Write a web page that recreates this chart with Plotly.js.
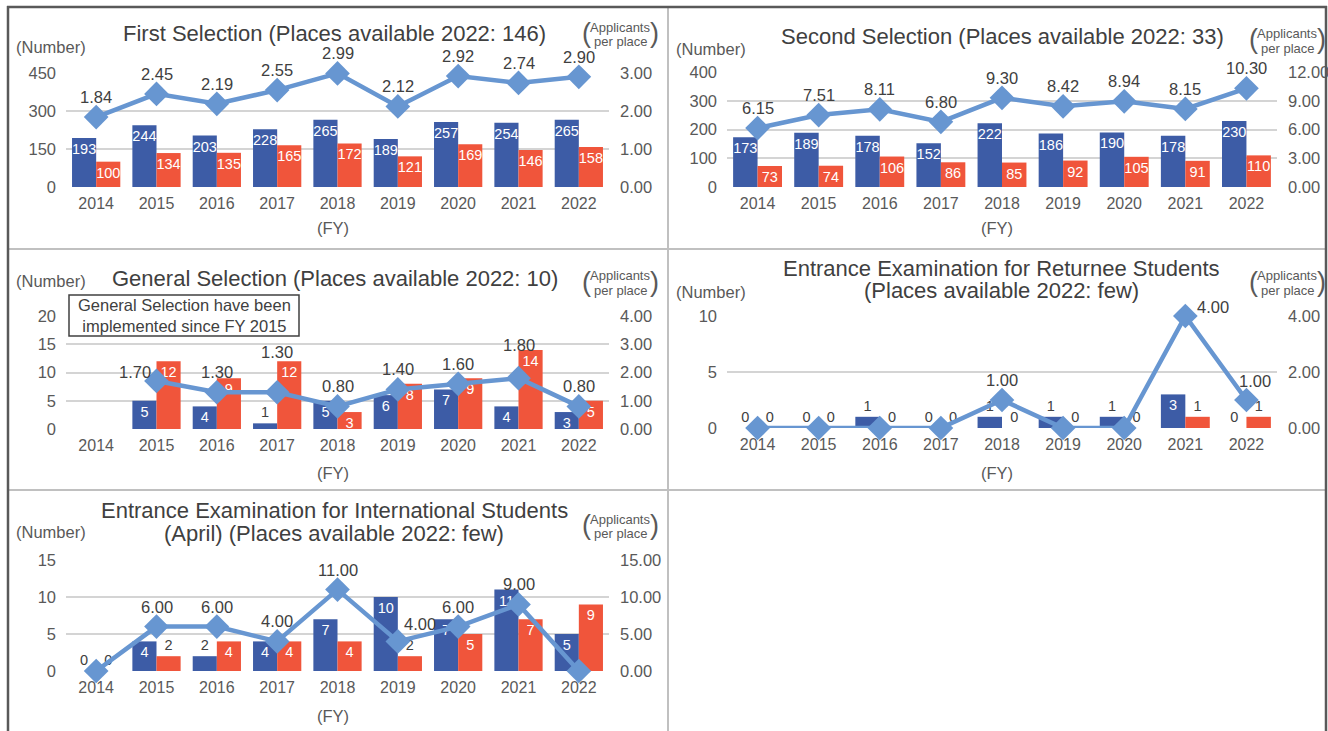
<!DOCTYPE html>
<html><head><meta charset="utf-8">
<script src="https://cdn.plot.ly/plotly-3.0.1.min.js"></script>
<style>html,body{margin:0;padding:0;background:#fff}#chart{width:1328px;height:731px}</style>
</head><body><div id="chart"></div>
<script>
// ---------- data ----------
const years = ['2014','2015','2016','2017','2018','2019','2020','2021','2022'];

const firstApplicants  = [193,244,203,228,265,189,257,254,265];
const firstSuccessful  = [100,134,135,165,172,121,169,146,158];
const firstRatio       = [1.84,2.45,2.19,2.55,2.99,2.12,2.92,2.74,2.90];

const secondApplicants = [173,189,178,152,222,186,190,178,230];
const secondSuccessful = [73,74,106,86,85,92,105,91,110];
const secondRatio      = [6.15,7.51,8.11,6.80,9.30,8.42,8.94,8.15,10.30];

const generalApplicants = [null,5,4,1,5,6,7,4,3];
const generalSuccessful = [null,12,9,12,3,8,9,14,5];
const generalRatio      = [null,1.70,1.30,1.30,0.80,1.40,1.60,1.80,0.80];

const returneeApplicants = [0,0,1,0,1,1,1,3,0];
const returneeSuccessful = [0,0,0,0,0,0,0,1,1];
const returneeRatio      = [0,0,0,0,1.00,0,0,4.00,1.00];

const intlApplicants = [0,4,2,4,7,10,7,11,5];
const intlSuccessful = [0,2,4,4,4,2,5,7,9];
const intlRatio      = [0,6.00,6.00,4.00,11.00,4.00,6.00,9.00,0];

const titles = [
  ['First Selection (Places available 2022: 146)'],
  ['Second Selection (Places available 2022: 33)'],
  ['General Selection (Places available 2022: 10)'],
  ['Entrance Examination for Returnee Students', '(Places available 2022: few)'],
  ['Entrance Examination for International Students', '(April) (Places available 2022: few)']
];
const noteText = 'General Selection have been<br>implemented since FY 2015';

// ---------- layout / style ----------
const W = 1328, H = 731;
const px = x => x / W, py = y => 1 - y / H;
const BLUE = '#3d5ca6', RED = '#f0553b', LINE = '#6796d1';
const DARK = '#404040', TICK = '#595959', GRID = '#d4d4d4';
const FONT = 'Arial, "Liberation Sans", sans-serif';

// label offsets (pixels) for ratio labels: default above the marker
const DEF_SHIFT = {x:0, y:20};
const panels = [
  {data:[firstApplicants, firstSuccessful, firstRatio], x0:66, x1:609, y0:73, y1:187,
   left:[450,150], right:[3,1], title:[334,[34]], num:[51,47], app:[620,27,41], fy:[333,228], shifts:{}},
  {data:[secondApplicants, secondSuccessful, secondRatio], x0:727, x1:1277, y0:72, y1:187,
   left:[400,100], right:[12,3], title:[1003,[37]], num:[711,49], app:[1287,33,48], fy:[997,228], shifts:{}},
  {data:[generalApplicants, generalSuccessful, generalRatio], x0:66, x1:609, y0:316, y1:429,
   left:[20,5], right:[4,1], title:[335,[278]], num:[51,281], app:[620,276,290], fy:[333,473],
   shifts:{1:{x:-22,y:9}, 3:{x:0,y:40}, 7:{x:0,y:33}}},
  {data:[returneeApplicants, returneeSuccessful, returneeRatio], x0:727, x1:1277, y0:316, y1:428,
   left:[10,5], right:[4,2], title:[1002,[268,290]], num:[711,292], app:[1287,276,290], fy:[997,473],
   shifts:{7:{x:28,y:9}, 8:{x:9,y:19}}},
  {data:[intlApplicants, intlSuccessful, intlRatio], x0:66, x1:609, y0:560, y1:671,
   left:[15,5], right:[15,5], title:[334,[511,533]], num:[51,532], app:[620,519,533], fy:[333,716],
   shifts:{5:{x:22,y:17}}}
];

const traces = [];
const layout = {
  width: W, height: H, margin:{l:0,r:0,t:0,b:0},
  paper_bgcolor:'#fff', plot_bgcolor:'rgba(0,0,0,0)',
  showlegend:false, barmode:'group', bargap:0.2, bargroupgap:0,
  font:{family:FONT, color:TICK},
  annotations:[], shapes:[]
};

panels.forEach((p, i) => {
  const xn = i === 0 ? '' : String(i + 1);
  const ylN = 2 * i + 1, yrN = 2 * i + 2;
  const xa = 'x' + xn, ya = ylN === 1 ? 'y' : 'y' + ylN, yb = 'y' + yrN;
  const [blue, red, ratio] = p.data;
  const lmax = p.left[0];
  const barText = arr => arr.map(v => v === null ? '' : String(v));
  const barPos = arr => arr.map(v => (v !== null && v / lmax >= 0.15) ? 'inside' : 'outside');
  [[blue, BLUE, 'Applicants'], [red, RED, 'Successful applicants']].forEach(([arr, col, nm]) => {
    traces.push({
      type:'bar', x:years, y:arr, name:nm, xaxis:xa, yaxis:ya,
      marker:{color:col, line:{width:0}},
      text:barText(arr), textposition:barPos(arr), insidetextanchor:'end',
      constraintext:'none', cliponaxis:false, textangle:0,
      insidetextfont:{family:FONT, size:14.5, color:'#ffffff'},
      outsidetextfont:{family:FONT, size:14.5, color:DARK}
    });
  });
  traces.push({
    type:'scatter', mode:'lines+markers', x:years, y:ratio, name:'Applicants per place',
    xaxis:xa, yaxis:yb, cliponaxis:false,
    line:{color:LINE, width:4.5},
    marker:{symbol:'diamond', size:19, color:LINE}
  });
  // ratio value labels, anchored on the data points (category index on x)
  ratio.forEach((v, k) => {
    if (v === null || v === 0) return;
    const s = p.shifts[k] || DEF_SHIFT;
    layout.annotations.push({xref:xa, yref:yb, x:k, y:v, text:v.toFixed(2), showarrow:false,
      xanchor:'center', yanchor:'middle', xshift:s.x, yshift:s.y,
      font:{family:FONT, size:16.5, color:DARK}});
  });

  const xdom = [px(p.x0), px(p.x1)], ydom = [py(p.y1), py(p.y0)];
  layout['xaxis' + xn] = {
    domain:xdom, anchor:ya, type:'category', range:[-0.5, 8.5],
    showgrid:false, zeroline:false, showline:false, ticks:'', ticklabelstandoff:5,
    tickfont:{family:FONT, size:16, color:TICK}, fixedrange:true
  };
  layout[ylN === 1 ? 'yaxis' : 'yaxis' + ylN] = {
    domain:ydom, anchor:xa, range:[0, p.left[0]], dtick:p.left[1], tick0:0,
    showgrid:true, gridcolor:GRID, gridwidth:2, zeroline:false, showline:false,
    ticks:'', ticklabelstandoff:9, tickfont:{family:FONT, size:16.5, color:TICK}, fixedrange:true
  };
  layout['yaxis' + yrN] = {
    domain:ydom, anchor:xa, overlaying:ya, side:'right', range:[0, p.right[0]], dtick:p.right[1], tick0:0,
    tickformat:'.2f', showgrid:false, zeroline:false, showline:false,
    ticks:'', ticklabelstandoff:10, tickfont:{family:FONT, size:16.5, color:TICK}, fixedrange:true
  };

  const ann = (x, y, text, size, color) => layout.annotations.push({
    xref:'paper', yref:'paper', x:px(x), y:py(y), xanchor:'center', yanchor:'middle',
    text:text, showarrow:false, font:{family:FONT, size:size, color:color}});
  titles[i].forEach((t, k) => ann(p.title[0], p.title[1][k], t, 22, DARK));
  ann(p.num[0], p.num[1], '(Number)', 16.5, TICK);
  const ac = (p.app[1] + p.app[2]) / 2;
  ann(p.app[0], p.app[1], 'Applicants', 13, TICK);
  ann(p.app[0], p.app[2], 'per place', 13, TICK);
  ann(p.app[0] - 34, ac - 1, '(', 27, TICK);
  ann(p.app[0] + 34, ac - 1, ')', 27, TICK);
  ann(p.fy[0], p.fy[1], '(FY)', 16.5, TICK);
});

// note box in the General Selection panel
layout.shapes.push({type:'rect', xref:'paper', yref:'paper', x0:px(69), x1:px(299), y0:py(336), y1:py(295),
  line:{color:DARK, width:1.5}, fillcolor:'#ffffff'});
layout.annotations.push({xref:'paper', yref:'paper', x:px(184), y:py(315.5), xanchor:'center', yanchor:'middle',
  text:noteText, showarrow:false, font:{family:FONT, size:16.5, color:DARK}});

// panel frame and dividers
const line = (x0, y0, x1, y1, color, w) => layout.shapes.push({type:'line', xref:'paper', yref:'paper',
  x0:px(x0), y0:py(y0), x1:px(x1), y1:py(y1), line:{color:color, width:w}, layer:'below'});
line(9, 249, 1325, 249, '#c0c0c0', 2);
line(9, 490, 1325, 490, '#c0c0c0', 2);
line(668, 7, 668, 731, '#c0c0c0', 2);
line(8, 6, 8, 731, '#595959', 2.5);
line(7, 7, 1327, 7, '#595959', 2.5);
line(1326, 6, 1326, 731, '#595959', 2.5);

Plotly.newPlot('chart', traces, layout, {staticPlot:true, displayModeBar:false});
</script>
</body></html>
